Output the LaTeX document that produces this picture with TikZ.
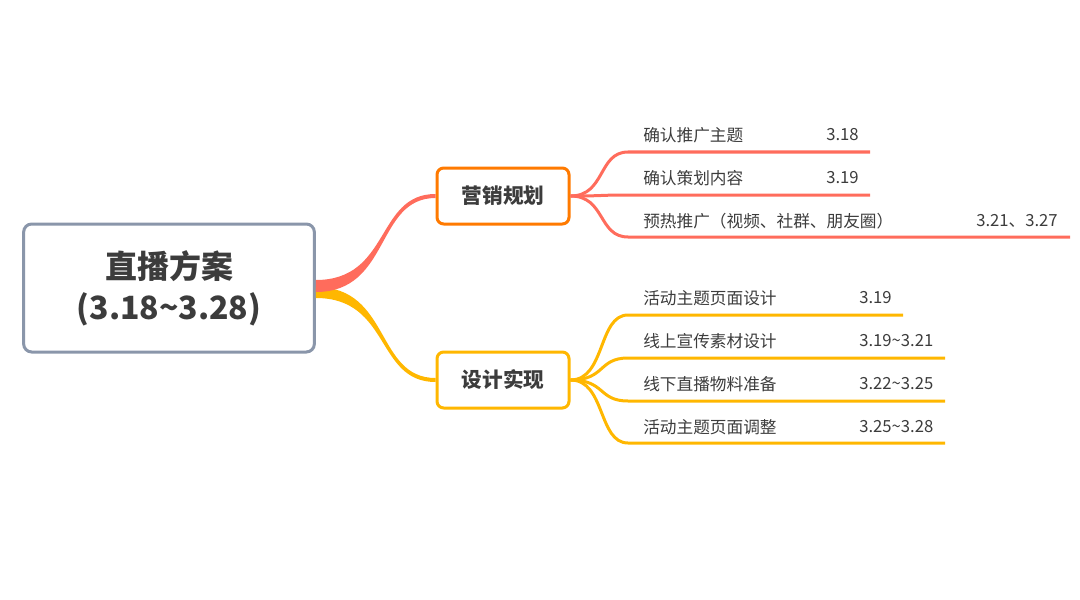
\documentclass[tikz,border=0pt]{standalone}
\usepackage{fontspec}
\setmainfont{Noto Sans CJK SC}
\usepackage{xcolor}
\usetikzlibrary{calc}
\definecolor{rootline}{RGB}{138,150,170}
\definecolor{mktcolor}{RGB}{255,122,0}
\definecolor{mktline}{RGB}{255,108,92}
\definecolor{dsgcolor}{RGB}{255,183,0}
\definecolor{textgray}{RGB}{60,60,60}

\begin{document}
\begin{tikzpicture}[
    x=0.75pt, y=-0.75pt,
    every node/.style={text=textgray},
    rootbox/.style={draw=rootline, line width=2.25pt, rounded corners=6pt, fill=white,
        minimum width=218pt, minimum height=96pt, align=center,
        font=\fontsize{24}{31}\selectfont\bfseries},
    topicbox/.style={line width=2.25pt, rounded corners=5pt, fill=white,
        minimum width=99pt, minimum height=42pt, font=\fontsize{15.5}{18}\selectfont\bfseries},
    leaf/.style={anchor=west, inner sep=0pt, font=\fontsize{12.5}{15}\selectfont},
    subline/.style={line width=2.25pt},
]
    \useasboundingbox (0,0) rectangle (1080,599);

    % Root and topics
    \node[rootbox] (root) at (169,288) {直播方案\\(3.18\textasciitilde3.28)};
    \node[topicbox, draw=mktcolor] (mkt) at (503,196) {营销规划};
    \node[topicbox, draw=dsgcolor] (dsg) at (503,380) {设计实现};

    % Main branches
    \fill[dsgcolor] ($(root.east)+(0,-1)$) .. controls +(75,0) and +(-60,0) .. ($(dsg.west)+(0,-2)$)
        -- ($(dsg.west)+(0,2)$) .. controls +(-60,0) and +(75,0) .. ($(root.east)+(0,10)$) -- cycle;
    \fill[mktline] ($(root.east)+(0,-8)$) .. controls +(75,0) and +(-60,0) .. ($(mkt.west)+(0,-2)$)
        -- ($(mkt.west)+(0,2)$) .. controls +(-60,0) and +(75,0) .. ($(root.east)+(0,4)$) -- cycle;

    % Marketing plan
    \coordinate (m1a) at (628,152); \coordinate (m1b) at (870,152);
    \coordinate (m2a) at (628,195); \coordinate (m2b) at (870,195);
    \coordinate (m3a) at (628,237); \coordinate (m3b) at (1070,237);
    \draw[subline, mktline] (mkt.east) .. controls +(35,0) and +(-30,0) .. (m1a) -- (m1b);
    \draw[subline, mktline] (mkt.east) .. controls +(35,0) and +(-30,0) .. (m2a) -- (m2b);
    \draw[subline, mktline] (mkt.east) .. controls +(35,0) and +(-30,0) .. (m3a) -- (m3b);
    \node[leaf] (m1t) at (643,135) {确认推广主题};
    \node[leaf] (m1d) at (826,135) {3.18};
    \node[leaf] (m2t) at (643,178) {确认策划内容};
    \node[leaf] (m2d) at (826,178) {3.19};
    \node[leaf] (m3t) at (643,221) {预热推广（视频、社群、朋友圈）};
    \node[leaf] (m3d) at (976,221) {3.21、3.27};

    % Design
    \coordinate (d1a) at (628,315); \coordinate (d1b) at (903,315);
    \coordinate (d2a) at (628,358); \coordinate (d2b) at (945,358);
    \coordinate (d3a) at (628,401); \coordinate (d3b) at (945,401);
    \coordinate (d4a) at (628,443); \coordinate (d4b) at (945,443);
    \draw[subline, dsgcolor] (dsg.east) .. controls +(35,0) and +(-30,0) .. (d1a) -- (d1b);
    \draw[subline, dsgcolor] (dsg.east) .. controls +(35,0) and +(-30,0) .. (d2a) -- (d2b);
    \draw[subline, dsgcolor] (dsg.east) .. controls +(35,0) and +(-30,0) .. (d3a) -- (d3b);
    \draw[subline, dsgcolor] (dsg.east) .. controls +(35,0) and +(-30,0) .. (d4a) -- (d4b);
    \node[leaf] (d1t) at (643,298) {活动主题页面设计};
    \node[leaf] (d1d) at (859,298) {3.19};
    \node[leaf] (d2t) at (643,341) {线上宣传素材设计};
    \node[leaf] (d2d) at (859,341) {3.19\textasciitilde3.21};
    \node[leaf] (d3t) at (643,384) {线下直播物料准备};
    \node[leaf] (d3d) at (859,384) {3.22\textasciitilde3.25};
    \node[leaf] (d4t) at (643,427) {活动主题页面调整};
    \node[leaf] (d4d) at (859,427) {3.25\textasciitilde3.28};
\end{tikzpicture}
\end{document}
